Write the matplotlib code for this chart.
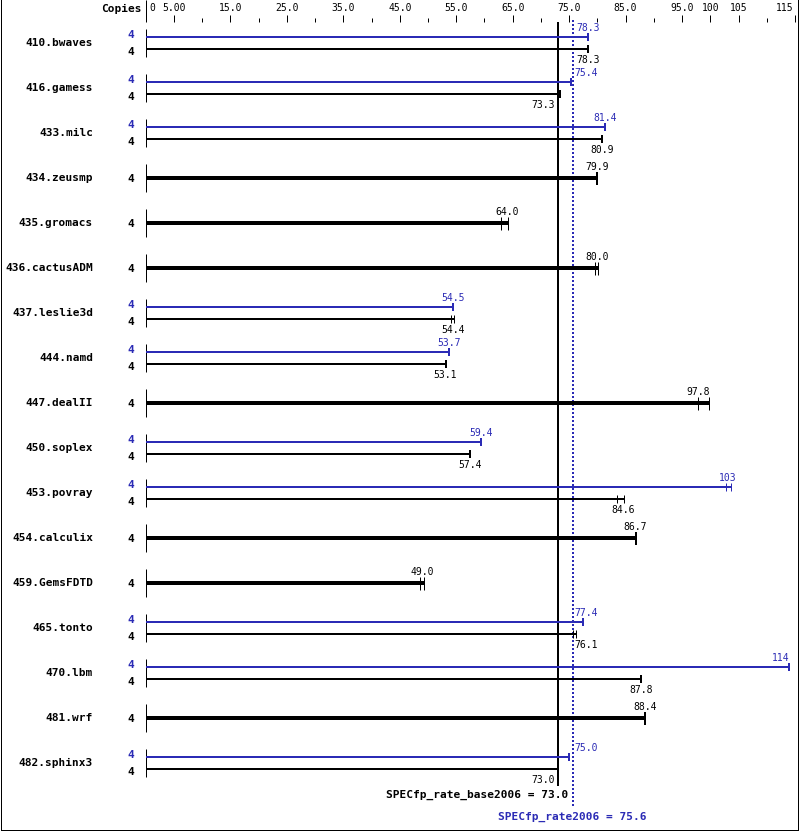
import numpy as np
import matplotlib
matplotlib.use("Agg")
import matplotlib.pyplot as plt

# ---------------- data ----------------
benchmarks = ['410.bwaves', '416.gamess', '433.milc', '434.zeusmp', '435.gromacs',
              '436.cactusADM', '437.leslie3d', '444.namd', '447.dealII', '450.soplex',
              '453.povray', '454.calculix', '459.GemsFDTD', '465.tonto', '470.lbm',
              '481.wrf', '482.sphinx3']
copies_base = [4, 4, 4, 4, 4, 4, 4, 4, 4, 4, 4, 4, 4, 4, 4, 4, 4]
copies_peak = [4, 4, 4, None, None, None, 4, 4, None, 4, 4, None, None, 4, 4, None, 4]
nan = np.nan
base_median = [78.3, 73.3, 80.9, 79.9, 64.0, 80.0, 54.4, 53.1, 97.8, 57.4,
               84.6, 86.7, 49.0, 76.1, 87.8, 88.4, 73.0]
base_min = [78.3, 73.3, 80.9, 79.9, 63.0, 79.5, 54.0, 53.1, 97.8, 57.4,
            83.5, 86.9, 48.5, 75.6, 87.8, 88.4, 73.0]
base_max = [78.3, 73.3, 80.9, 79.9, 64.2, 80.1, 54.6, 53.1, 99.7, 57.4,
            84.8, 86.9, 49.3, 76.2, 87.8, 88.4, 73.0]
peak_median = [78.3, 75.4, 81.4, nan, nan, nan, 54.5, 53.7, nan, 59.4,
               103, nan, nan, 77.4, 114, nan, 75.0]
peak_min = [78.3, 75.4, 81.4, nan, nan, nan, 54.5, 53.7, nan, 59.4,
            102.7, nan, nan, 77.4, 114, nan, 75.0]
peak_max = [78.3, 75.4, 81.4, nan, nan, nan, 54.5, 53.7, nan, 59.4,
            103.6, nan, nan, 77.4, 114, nan, 75.0]
peak_labels = ['78.3', '75.4', '81.4', '', '', '', '54.5', '53.7', '', '59.4',
               '103', '', '', '77.4', '114', '', '75.0']
base_labels = ['78.3', '73.3', '80.9', '79.9', '64.0', '80.0', '54.4', '53.1', '97.8', '57.4',
               '84.6', '86.7', '49.0', '76.1', '87.8', '88.4', '73.0']
base_score = 73.0
peak_score = 75.6
base_score_label = 'SPECfp_rate_base2006 = 73.0'
peak_score_label = 'SPECfp_rate2006 = 75.6'
tick_major = [5, 15, 25, 35, 45, 55, 65, 75, 85, 95, 100, 105, 115]
tick_major_labels = ['5.00', '15.0', '25.0', '35.0', '45.0', '55.0', '65.0', '75.0',
                     '85.0', '95.0', '100', '105', '115']
tick_minor = [10, 20, 30, 40, 50, 60, 70, 80, 90, 110]

# ---------------- layout ----------------
W, H = 799, 831
X0 = 145.8          # pixel of value 0
SCALE = 5.645       # pixels per unit
BLUE = '#2b2bb5'
BLACK = '#000000'
MONO = 'DejaVu Sans Mono'

def px(p):
    """pixel x -> data x"""
    return (p - X0) / SCALE

fig = plt.figure(figsize=(W / 100, H / 100), dpi=100)
ax = fig.add_axes([0, 0, 1, 1])
ax.set_xlim(px(0), px(W))
ax.set_ylim(H, 0)
ax.axis('off')

def lw(pixels):
    return pixels * 72 / 100

# frame (left, right, bottom)
ax.plot([px(0.5), px(0.5)], [0, H - 1.5], color='black', lw=lw(1))
ax.plot([px(W - 1), px(W - 1)], [0, H - 1.5], color='black', lw=lw(1))
ax.plot([px(0.5), px(W - 1)], [H - 1.5, H - 1.5], color='black', lw=lw(1))

# top axis
ax.vlines(0, 0, 22, color='black', lw=lw(1))
ax.text(px(142), 9, 'Copies', family=MONO, weight='bold', fontsize=8,
        ha='right', va='center')
ax.text(px(149), 8, '0', family=MONO, fontsize=7, ha='left', va='center')
ax.vlines(tick_major, 15, 22, color='black', lw=lw(1))
ax.vlines(tick_minor, 18, 22, color='black', lw=lw(1))
for t, lab in zip(tick_major, tick_major_labels):
    xp = X0 + t * SCALE
    if xp + len(lab) * 3 > W - 3:
        ax.text(px(W - 6), 8, lab, family=MONO, fontsize=7, ha='right', va='center')
    else:
        ax.text(t, 8, lab, family=MONO, fontsize=7, ha='center', va='center')

# reference lines
ax.vlines(base_score, 22, 786, color='black', lw=lw(2))
ax.vlines(peak_score, 20, 808, color=BLUE, lw=lw(2), linestyles=(0, (1, 1)))

CHAR_PX = 5.8

def place_label(v, s, y, color):
    c = X0 + v * SCALE
    h = len(s) * CHAR_PX / 2
    dot = X0 + peak_score * SCALE
    bl = X0 + base_score * SCALE
    if c + h > W - 4:
        ax.text(v, y, s, family=MONO, fontsize=7, color=color, ha='right', va='center')
    elif c - h < dot < c + h:
        ax.text(px(dot + 2), y, s, family=MONO, fontsize=7, color=color,
                ha='left', va='center')
    elif c - h < bl < c + h:
        ax.text(px(bl - 3), y, s, family=MONO, fontsize=7, color=color,
                ha='right', va='center')
    else:
        ax.text(v, y, s, family=MONO, fontsize=7, color=color, ha='center', va='center')

def end_ticks(vmin, vmax, y0, y1, color):
    if abs(vmax - vmin) < 0.3:
        ax.vlines(vmax, y0, y1, color=color, lw=lw(2))
    else:
        ax.vlines([vmin, vmax], y0, y1, color=color, lw=lw(1))

for i, name in enumerate(benchmarks):
    yc = 43 + 45 * i
    ax.text(px(93), yc, name, family=MONO, weight='bold', fontsize=8,
            ha='right', va='center')
    ax.vlines(0, yc - 14, yc + 14, color='black', lw=lw(1))
    if copies_peak[i] is not None:
        yp, yb = yc - 6, yc + 6
        # peak bar
        ax.hlines(yp, 0, peak_max[i], color=BLUE, lw=lw(2))
        end_ticks(peak_min[i], peak_max[i], yp - 4, yp + 4, BLUE)
        ax.text(px(134), yp - 2, str(copies_peak[i]), family=MONO, weight='bold',
                fontsize=8, color=BLUE, ha='right', va='center')
        place_label(peak_median[i], peak_labels[i], yp - 9, BLUE)
        # base bar
        ax.hlines(yb, 0, base_max[i], color=BLACK, lw=lw(2))
        end_ticks(base_min[i], base_max[i], yb - 4, yb + 4, BLACK)
        ax.text(px(134), yb + 3, str(copies_base[i]), family=MONO, weight='bold',
                fontsize=8, color=BLACK, ha='right', va='center')
        place_label(base_median[i], base_labels[i], yb + 11, BLACK)
    else:
        ax.hlines(yc, 0, base_max[i], color=BLACK, lw=lw(4))
        end_ticks(base_min[i], base_max[i], yc - 6, yc + 7, BLACK)
        ax.text(px(134), yc + 1, str(copies_base[i]), family=MONO, weight='bold',
                fontsize=8, color=BLACK, ha='right', va='center')
        place_label(base_median[i], base_labels[i], yc - 11, BLACK)

# score texts
ax.text(px(568), 795, base_score_label, family=MONO, weight='bold', fontsize=8,
        color=BLACK, ha='right', va='center')
ax.text(peak_score, 817, peak_score_label, family=MONO, weight='bold', fontsize=8,
        color=BLUE, ha='center', va='center')

fig.savefig('out.png', dpi=100)
